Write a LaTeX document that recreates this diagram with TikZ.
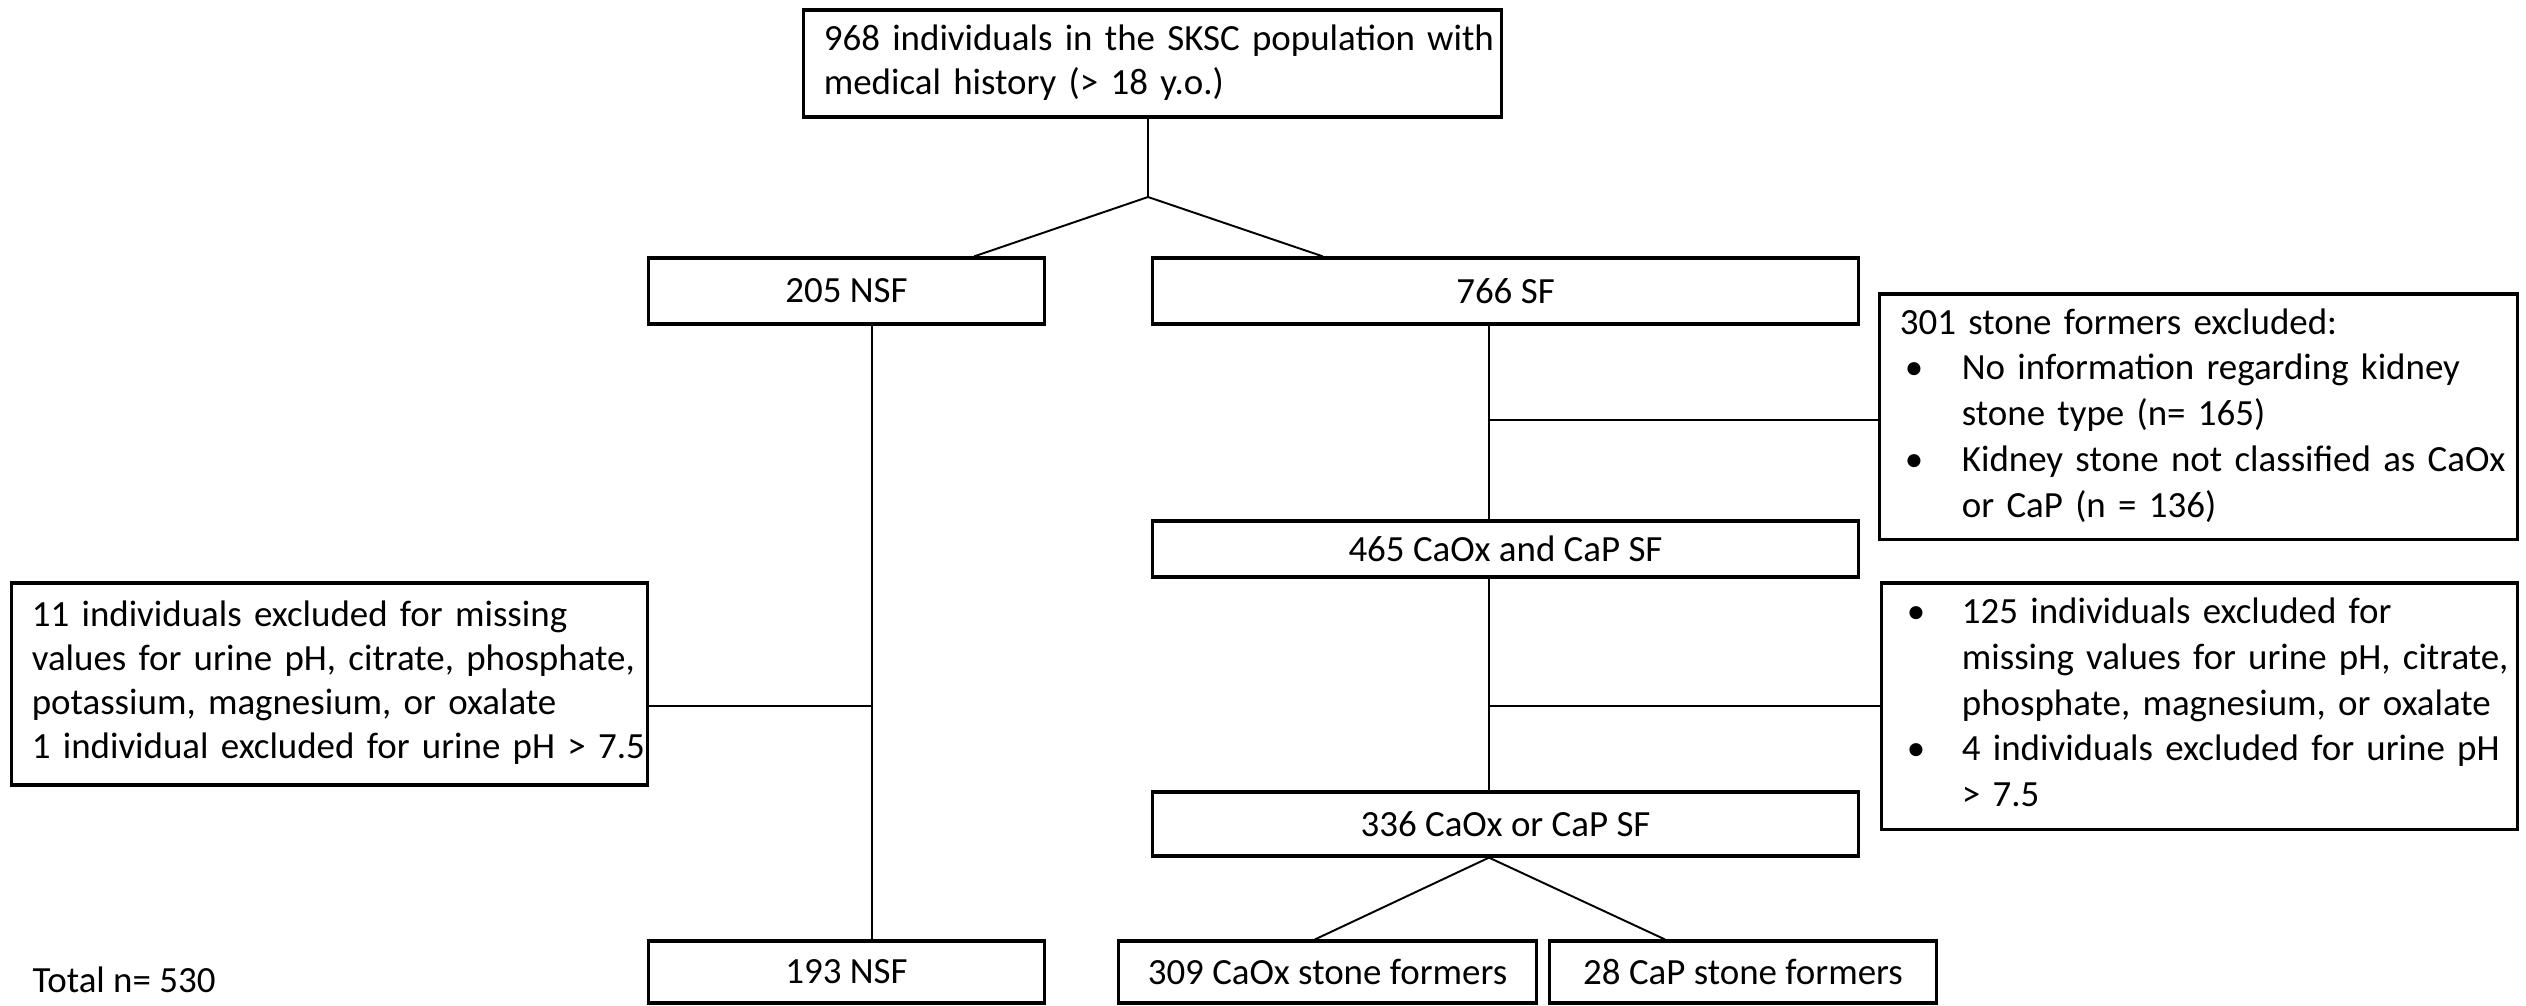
\documentclass[tikz,border=0pt]{standalone}
\usepackage{fontspec}
\setmainfont{Carlito}
\usepackage{array}
\begin{document}
\begin{tikzpicture}[x=0.01cm,y=-0.01cm,
  box/.style={draw=black, line width=0.9pt, inner ysep=0pt, inner xsep=0.2cm, align=left,
    font=\fontsize{10.5pt}{12.5pt}\selectfont},
  conn/.style={draw=black, line width=0.55pt},
  lbl/.style={font=\fontsize{10.5pt}{12.5pt}\selectfont, inner sep=0pt}]
\useasboundingbox (0,0) rectangle (2526,1005);
% boxes
\node[box, minimum width=6.97cm, minimum height=1.07cm, text width=6.57cm] (top) at (1152.5,63.5)
  {\begin{tabular}{@{}l@{}}968 individuals in the SKSC population with\\medical history (> 18 y.o.)\end{tabular}};
\node[box, minimum width=3.95cm, minimum height=0.66cm] (nsfa) at (846.5,291) {205 NSF};
\node[box, minimum width=7.05cm, minimum height=0.66cm] (sf) at (1505.5,291) {766 SF};
\node[box, minimum width=6.37cm, minimum height=2.45cm, text width=5.97cm] (exa) at (2198.5,416.5)
  {\renewcommand{\arraystretch}{1.04}\begin{tabular}{@{}p{0.62cm}@{}l@{}}
   \multicolumn{2}{@{}l@{}}{301 stone formers excluded:}\\
   \hspace{0.05cm}• & No information regarding kidney\\
    & stone type (n= 165)\\
   \hspace{0.05cm}• & Kidney stone not classified as CaOx\\
    & or CaP (n = 136)
  \end{tabular}};
\node[box, minimum width=7.05cm, minimum height=0.56cm] (cc) at (1505.5,549) {465 CaOx and CaP SF};
\node[box, minimum width=6.35cm, minimum height=2.02cm, text width=5.95cm] (exl) at (329.5,684)
  {\begin{tabular}{@{}l@{}}11 individuals excluded for missing\\values for urine pH, citrate, phosphate,\\potassium, magnesium, or oxalate\\1 individual excluded for urine pH > 7.5\end{tabular}};
\node[box, minimum width=6.35cm, minimum height=2.46cm, text width=5.95cm] (exb) at (2199.5,706)
  {\renewcommand{\arraystretch}{1.04}\begin{tabular}{@{}p{0.6cm}@{}l@{}}
   \hspace{0.05cm}• & 125 individuals excluded for\\
    & missing values for urine pH, citrate,\\
    & phosphate, magnesium, or oxalate\\
   \hspace{0.05cm}• & 4 individuals excluded for urine pH\\
    & > 7.5
  \end{tabular}};
\node[box, minimum width=7.05cm, minimum height=0.64cm] (cor) at (1505.5,824) {336 CaOx or CaP SF};
\node[box, minimum width=3.95cm, minimum height=0.62cm] (nsfb) at (846.5,972) {193 NSF};
\node[box, minimum width=4.17cm, minimum height=0.62cm] (caox) at (1327.5,972) {309 CaOx stone formers};
\node[box, minimum width=3.86cm, minimum height=0.62cm] (cap) at (1743,972) {28 CaP stone formers};
\node[lbl, anchor=west] (tot) at (32,980) {Total n= 530};
% connectors
\coordinate (j1) at (1148,197);
\draw[conn] (top.south -| j1) -- (j1);
\draw[conn] (j1) -- ([xshift=1.275cm]nsfa.north);
\draw[conn] (j1) -- ([xshift=-1.825cm]sf.north);
\draw[conn] ([xshift=-0.165cm]sf.south) -- ([xshift=-0.165cm]cc.north);
\coordinate (h1) at (1489,420);
\draw[conn] (h1) -- (exa.west |- h1);
\draw[conn] ([xshift=-0.165cm]cc.south) -- ([xshift=-0.165cm]cor.north);
\coordinate (h2) at (1489,706);
\draw[conn] (h2) -- (exb.west |- h2);
\draw[conn] ([xshift=0.255cm]nsfa.south) -- ([xshift=0.255cm]nsfb.north);
\coordinate (h3) at (872,706);
\draw[conn] (exl.east |- h3) -- (h3);
\draw[conn] ([xshift=-0.165cm]cor.south) -- ([xshift=-0.125cm]caox.north);
\draw[conn] ([xshift=-0.165cm]cor.south) -- ([xshift=-0.78cm]cap.north);
\end{tikzpicture}
\end{document}
